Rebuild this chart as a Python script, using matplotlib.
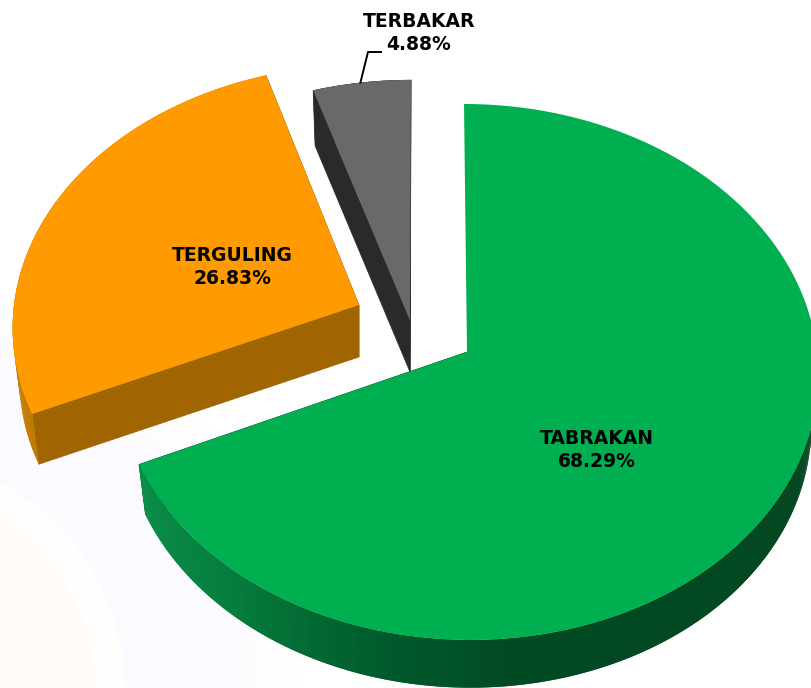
import numpy as np
import matplotlib
matplotlib.use('Agg')
import matplotlib.pyplot as plt
from matplotlib.colors import LinearSegmentedColormap, to_rgb
from matplotlib.patches import Circle, Polygon

categories = ['TABRAKAN', 'TERGULING', 'TERBAKAR']
values = [68.29, 26.83, 4.88]

# layout, in pixels of the picture
apex = [(467, 352), (359, 305), (410, 320)]
radius_y = [266.5, 258, 258]
radius_x = [350, 345, 347]
persp = 0.0746
vanish_x = 424
depth = 52
floor_x = 0.98
floor_y = 0.985
label_pos = [(597, 450), (232, 267), (419, 33)]

top_col = ['#00b050', '#ff9a00', '#696969']
cut_col = ['#07482a', '#a06400', '#2a2a2a']
rim_cmaps = [
    LinearSegmentedColormap.from_list('g', [(0, '#0a8f4a'), (0.17, '#067c3d'), (0.33, '#005c2c'),
                                            (0.46, '#024a24'), (1, '#03471f')]),
    LinearSegmentedColormap.from_list('o', ['#d98a00', '#c07a00']),
    LinearSegmentedColormap.from_list('k', ['#2a2a2a', '#2a2a2a']),
]


def rim_point(i, theta, low=False):
    # theta in degrees, clockwise from the top of the pie
    t = np.radians(theta)
    u, v = np.sin(t), np.cos(t)
    w = 1 + persp * v
    ax0, ay0 = apex[i]
    dx = (radius_x[i] * u + (vanish_x - ax0) * persp * v) / w
    dy = -radius_y[i] * v / w
    if low:
        return ax0 + dx * floor_x, ay0 + dy * floor_y + depth
    return ax0 + dx, ay0 + dy


fig = plt.figure(figsize=(8.11, 6.88), dpi=100)
ax = fig.add_axes([0, 0, 1, 1])
ax.set_xlim(0, 811)
ax.set_ylim(688, 0)
ax.axis('off')

# faint watermark behind the pie, fading out to white
white = np.array(to_rgb('#ffffff'))
lav = np.array(to_rgb('#fafaff'))
for r in np.arange(430, 235, -6):
    k = min((430 - r) / 120, 1)
    ax.add_patch(Circle((-110, 690), r, fc=tuple(white + (lav - white) * k), ec='none', zorder=0))
ax.add_patch(Circle((-110, 690), 235, fc='#fffefc', ec='none', zorder=0))
ax.add_patch(Circle((-110, 690), 205, fc='#fffbf9', ec='none', zorder=0))

ends = np.cumsum(values) / np.sum(values) * 360
starts = np.r_[0, ends[:-1]]

for i in range(len(values)):
    ax0, ay0 = apex[i]
    thetas = np.arange(starts[i], ends[i] + 0.5, 0.5)
    thetas[-1] = ends[i]

    # cut faces
    for th in (starts[i], ends[i]):
        if i == 0 and th == starts[i]:
            continue
        top = rim_point(i, th)
        low = rim_point(i, th, low=True)
        ax.add_patch(Polygon([(ax0, ay0), top, low, (ax0, ay0 + depth)],
                             fc=cut_col[i], ec=cut_col[i], lw=0.5, zorder=2))

    # rim, many small pieces so the shade can change along it
    first = 90 if i == 0 else starts[i]
    for a in thetas[:-1]:
        if a < first:
            continue
        b = min(a + 1.0, ends[i])
        s = (ends[i] - a) / (ends[i] - first)
        col = rim_cmaps[i](s)
        ax.add_patch(Polygon([rim_point(i, a), rim_point(i, b),
                              rim_point(i, b, True), rim_point(i, a, True)],
                             fc=col, ec='none', zorder=3))

    # top face
    pts = [(ax0, ay0)] + [rim_point(i, th) for th in thetas]
    ax.add_patch(Polygon(pts, fc=top_col[i], ec='none', zorder=4))

    ax.text(label_pos[i][0], label_pos[i][1], f'{categories[i]}\n{values[i]:.2f}%',
            ha='center', va='center', fontsize=13.5, fontweight='bold',
            family='DejaVu Sans', color='black', linespacing=1.3, zorder=6)

# leader line of the small slice
lead = rim_point(2, 351)
ax.plot([lead[0], 368, 381], [lead[1], 52, 52], color='black', lw=1.4, zorder=5)

fig.savefig('out.png', dpi=100)
